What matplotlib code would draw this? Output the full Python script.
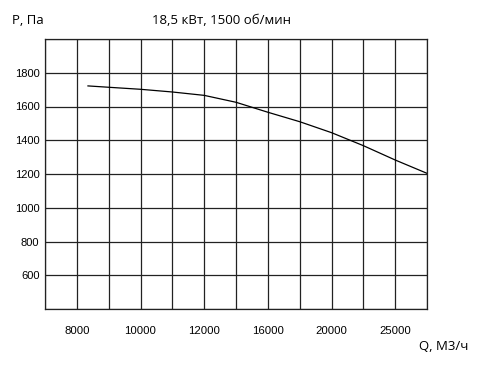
import matplotlib.pyplot as plt

# x axis is a set of evenly spaced grid cells, labels only on every other line
q_labels = ['', '8000', '', '10000', '', '12000', '', '16000', '', '20000', '', '25000', '']
# curve, x in grid-cell units
curve_x = [1.35, 2, 3, 4, 5, 6, 7, 8, 9, 10, 11, 12]
curve_p = [1722, 1714, 1702, 1686, 1666, 1625, 1566, 1510, 1445, 1368, 1283, 1204]
p_ticks = [600, 800, 1000, 1200, 1400, 1600, 1800]

fig = plt.figure(figsize=(4.84, 3.85), dpi=100)
ax = fig.add_axes([45 / 484, 1 - 309 / 385, 382 / 484, 270 / 385])

ax.plot(curve_x, curve_p, color='black', linewidth=0.9)

ax.set_xlim(0, 12)
ax.set_ylim(400, 2000)
ax.set_xticks(range(len(q_labels)))
ax.set_xticklabels(q_labels, fontfamily='Liberation Sans', fontsize=8.2)
ax.set_yticks(range(400, 2001, 200))
ax.set_yticklabels([str(v) if v in p_ticks else '' for v in range(400, 2001, 200)],
                   fontfamily='Liberation Sans', fontsize=8)
ax.tick_params(axis='x', length=0, pad=12)
ax.tick_params(axis='y', length=0, pad=4)
ax.grid(True, color='#222222', linewidth=0.9)
for s in ax.spines.values():
    s.set_color('#222222')
    s.set_linewidth(0.9)

fig.text(12 / 484, 1 - 21 / 385, 'P, Па', fontfamily='Open Sans', fontsize=9.5, va='center')
fig.text(222 / 484, 1 - 21 / 385, '18,5 кВт, 1500 об/мин', fontfamily='Open Sans',
         fontsize=9.5, va='center', ha='center')
fig.text(419 / 484, 1 - 347 / 385, 'Q, М3/ч', fontfamily='Open Sans', fontsize=9.5, va='center')

fig.savefig('out.png', dpi=100)
